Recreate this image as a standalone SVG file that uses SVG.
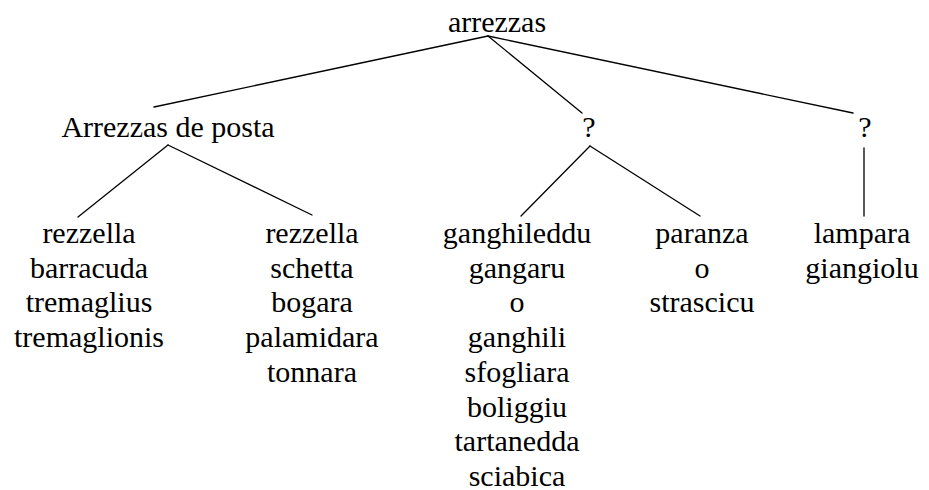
<svg xmlns="http://www.w3.org/2000/svg" width="929" height="490" viewBox="0 0 929 490">
<style>
text{font-family:"Liberation Serif","Times New Roman",serif;font-size:30px;fill:#000;text-anchor:middle}
.e line{stroke:#000;stroke-width:1.3;stroke-linecap:round}
</style>
<rect width="929" height="490" fill="#fff"/>
<g class="e" id="connectors">
<line x1="488" y1="36" x2="154" y2="107"/>
<line x1="488" y1="36" x2="582" y2="113"/>
<line x1="488" y1="36" x2="853" y2="113"/>
<line x1="168" y1="145" x2="78" y2="217"/>
<line x1="168" y1="145" x2="312" y2="215"/>
<line x1="590" y1="146" x2="521" y2="216"/>
<line x1="590" y1="146" x2="700" y2="216"/>
<line x1="864" y1="148" x2="864" y2="216"/>
</g>
<g id="root"><text x="497" y="32">arrezzas</text></g>
<g id="posta"><text x="168" y="137">Arrezzas de posta</text></g>
<g id="q1"><text x="589" y="137">?</text></g>
<g id="q2"><text x="865" y="137">?</text></g>
<g id="leaf1">
<text x="89" y="243">rezzella</text>
<text x="89" y="277.7">barracuda</text>
<text x="89" y="312.4">tremaglius</text>
<text x="89" y="347.1">tremaglionis</text>
</g>
<g id="leaf2">
<text x="312" y="243">rezzella</text>
<text x="312" y="277.7">schetta</text>
<text x="312" y="312.4">bogara</text>
<text x="312" y="347.1">palamidara</text>
<text x="312" y="381.8">tonnara</text>
</g>
<g id="leaf3">
<text x="517" y="243">ganghileddu</text>
<text x="517" y="277.7">gangaru</text>
<text x="517" y="312.4">o</text>
<text x="517" y="347.1">ganghili</text>
<text x="517" y="381.8">sfogliara</text>
<text x="517" y="416.5">boliggiu</text>
<text x="517" y="451.2">tartanedda</text>
<text x="517" y="485.5">sciabica</text>
</g>
<g id="leaf4">
<text x="702" y="243">paranza</text>
<text x="702" y="277.7">o</text>
<text x="702" y="312.4">strascicu</text>
</g>
<g id="leaf5">
<text x="862" y="243">lampara</text>
<text x="862" y="277.7">giangiolu</text>
</g>
</svg>
